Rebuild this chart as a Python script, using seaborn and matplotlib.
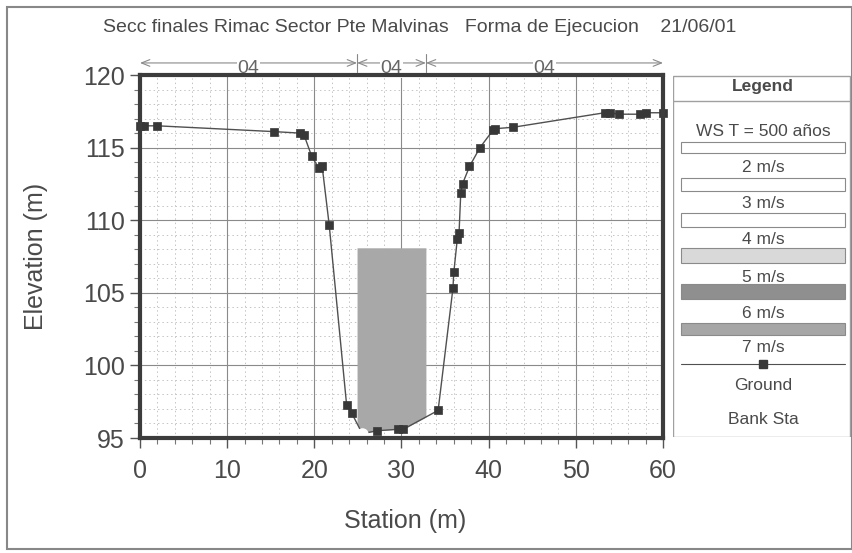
import matplotlib
matplotlib.use("Agg")
import matplotlib.pyplot as plt
import matplotlib.patches as mpatches
from matplotlib.ticker import MultipleLocator
import numpy as np
import pandas as pd
import seaborn as sns

# ---- data -------------------------------------------------------------
station = [0.0, 0.5, 2.0, 15.4, 18.3, 18.8, 19.7, 20.5, 20.9, 21.7, 23.7, 24.3,
           25.5, 27.2, 29.6, 30.2, 34.2, 35.9, 36.0, 36.4, 36.6, 36.8, 37.0,
           37.8, 39.0, 40.5, 40.7, 42.8, 53.3, 53.9, 55.0, 57.4, 58.1, 60.0]
elevation = [116.5, 116.5, 116.5, 116.1, 116.0, 115.9, 114.4, 113.6, 113.7, 109.7,
             97.3, 96.7, 95.3, 95.5, 95.6, 95.6, 96.9, 105.3, 106.4, 108.7, 109.1,
             111.9, 112.5, 113.7, 115.0, 116.2, 116.3, 116.4, 117.4, 117.4, 117.3,
             117.3, 117.4, 117.4]
marked = [True] * len(station)
marked[12] = False  # point hidden at the bottom of the channel

bank_sta = [24.9, 32.8]
ws_elev = 108.1
manning_bounds = [0.0, 24.9, 32.8, 60.0]
manning_labels = ["04", "04", "04"]

title = "Secc finales Rimac Sector Pte Malvinas   Forma de Ejecucion    21/06/01"
legend_labels = ["WS T = 500 años", "2 m/s", "3 m/s", "4 m/s", "5 m/s",
                 "6 m/s", "7 m/s", "Ground", "Bank Sta"]
legend_fills = ["white", "white", "white", "#d9d9d9", "#8f8f8f", "#a6a6a6"]

df = pd.DataFrame({"station": station, "elevation": elevation, "marked": marked})

# ---- style ------------------------------------------------------------
sns.set_theme(style="white")
plt.rcParams["font.family"] = ["Liberation Sans", "DejaVu Sans"]
TXT = "#4a4a4a"

W, H = 853, 553
fig = plt.figure(figsize=(W / 100, H / 100), dpi=100)
fig.patch.set_facecolor("white")

# outer frame
fig.patches.append(mpatches.Rectangle((7 / W, 1 - 549 / H), 845 / W, 542 / H,
                                      transform=fig.transFigure, fill=False,
                                      edgecolor="#888888", lw=1.5))

ax = fig.add_axes([140 / W, 1 - 438 / H, 523 / W, 363 / H])

# water / velocity fill between bank stations
xs = np.linspace(bank_sta[0], bank_sta[1], 60)
bottom = np.interp(xs, df["station"], df["elevation"])
ax.fill_between(xs, bottom, ws_elev, color="#a8a8a8", lw=0, zorder=2)

# ground
sns.lineplot(data=df, x="station", y="elevation", sort=False, estimator=None,
             color="#505050", lw=1.0, ax=ax, zorder=3)
sns.scatterplot(data=df[df["marked"]], x="station", y="elevation", marker="s",
                s=30, color="#383838", edgecolor="#383838", linewidth=0.5,
                ax=ax, zorder=4, clip_on=False)
# white spot at the channel bottom
ax.plot([station[12]], [elevation[12]], marker="o", ms=8, color="white",
        mec="white", zorder=3.5, clip_on=False)

ax.set_xlim(0, 60)
ax.set_ylim(95, 120)
ax.xaxis.set_major_locator(MultipleLocator(10))
ax.xaxis.set_minor_locator(MultipleLocator(2))
ax.yaxis.set_major_locator(MultipleLocator(5))
ax.yaxis.set_minor_locator(MultipleLocator(1))
ax.grid(which="major", color="#8a8a8a", lw=0.8, ls="-", zorder=0)
ax.grid(which="minor", color="#c4c4c4", lw=0.7, ls=(0, (1.5, 3)), zorder=0)
ax.set_axisbelow(True)
for sp in ax.spines.values():
    sp.set_linewidth(3)
    sp.set_color("#3c3c3c")
    sp.set_zorder(5)
ax.tick_params(which="major", direction="out", length=7, width=1, color="#555555",
               labelsize=18, labelcolor=TXT, left=True, bottom=True, pad=4)
ax.tick_params(which="minor", direction="out", length=4, width=0.8, color="#777777",
               left=True, bottom=True)
ax.tick_params(axis="x", which="major", pad=8)
ax.set_xlabel("Station (m)", fontsize=18, color=TXT)
ax.set_ylabel("Elevation (m)", fontsize=18, color=TXT)
ax.xaxis.set_label_coords(0.507, -0.195)
ax.yaxis.set_label_coords(-0.175, 0.5)

# Manning n annotations at top
y_arrow = 120.83
for xb in bank_sta:
    ax.plot([xb, xb], [120.2, 121.45], color="#888888", lw=0.8, clip_on=False,
            zorder=1)
for i, lab in enumerate(manning_labels):
    a, b = manning_bounds[i], manning_bounds[i + 1]
    ax.annotate("", xy=(b, y_arrow), xytext=(a, y_arrow), xycoords="data",
                annotation_clip=False, zorder=1,
                arrowprops=dict(arrowstyle="<->,head_length=0.5,head_width=0.2",
                                color="#8a8a8a", lw=0.8, shrinkA=0, shrinkB=0))
    ax.text((a + b) / 2, 120.45, lab, ha="center", va="center", fontsize=14,
            color="#666666", clip_on=False, zorder=1.5,
            bbox=dict(facecolor="white", edgecolor="none", pad=0.5))

# title
fig.text(420 / W, 1 - 27 / H, title, ha="center", va="center", fontsize=14,
         color=TXT)

# legend panel
lx0, ly0, lx1, ly1 = 673, 75, 851, 437
lax = fig.add_axes([lx0 / W, 1 - ly1 / H, (lx1 - lx0) / W, (ly1 - ly0) / H])
lax.set_xlim(0, lx1 - lx0)
lax.set_ylim(ly1 - ly0, 0)
lax.axis("off")
lax.add_patch(mpatches.Rectangle((0.5, 0.5), lx1 - lx0 - 1, ly1 - ly0 - 1,
                                 fill=False, edgecolor="#a0a0a0", lw=1))
lax.plot([0.5, lx1 - lx0 - 0.5], [26, 26], color="#a0a0a0", lw=1)
lax.text(90, 11, "Legend", ha="center", va="center", fontsize=12.5,
         fontweight="bold", color=TXT)
label_y = [57, 92, 129, 165, 202, 238, 273, 310, 345]
box_y = [(67, 78), (103, 116), (138, 152), (173, 188), (209, 224), (248, 260)]
for lab, yy in zip(legend_labels, label_y):
    lax.text(90, yy, lab, ha="center", va="center", fontsize=12.5, color=TXT)
for fc, (y0, y1) in zip(legend_fills, box_y):
    lax.add_patch(mpatches.Rectangle((8, y0), 164, y1 - y0, facecolor=fc,
                                     edgecolor="#8a8a8a", lw=0.8))
lax.plot([8, 172], [289, 289], color="#505050", lw=0.8)
lax.plot([90], [289], marker="s", ms=5.5, color="#383838")

fig.savefig("out.png", dpi=100)
